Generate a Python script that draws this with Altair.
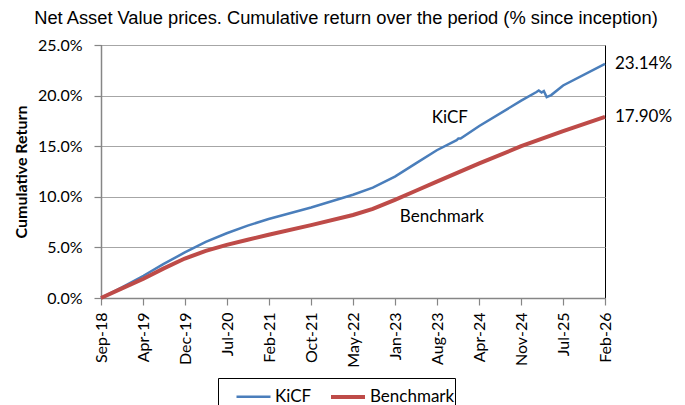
import altair as alt
import pandas as pd

# ---- data ----
tick_labels = ["Sep-18", "Apr-19", "Dec-19", "Jul-20", "Feb-21", "Oct-21", "May-22",
               "Jan-23", "Aug-23", "Apr-24", "Nov-24", "Jul-25", "Feb-26"]
span_months = 89  # Sep-18 .. Feb-26

kicf_months = [0, 3.7, 7.5, 11, 14.8, 18.5, 22.2, 25.9, 29.6, 37.1, 44.5, 48.0, 51.9,
               55.6, 59.3, 62.8, 63.1, 63.5, 66.8, 74.2, 76.9, 77.3, 77.8, 78.2, 78.7,
               79.5, 81.6, 89]
kicf_values = [0, 1.05, 2.2, 3.35, 4.5, 5.55, 6.4, 7.15, 7.8, 8.95, 10.2, 10.9, 12.0,
               13.3, 14.6, 15.6, 15.75, 15.75, 17.0, 19.5, 20.35, 20.5, 20.3, 20.45, 19.85,
               20.05, 21.0, 23.14]

bench_months = [0, 3.7, 7.5, 11, 14.8, 18.5, 22.2, 25.9, 29.6, 37.1, 44.5, 48.0, 51.9,
                55.6, 59.3, 66.8, 74.2, 81.6, 89]
bench_values = [0, 0.95, 1.9, 2.9, 3.9, 4.65, 5.25, 5.75, 6.25, 7.2, 8.2, 8.8, 9.7,
                10.6, 11.5, 13.3, 15.0, 16.5, 17.9]

series_names = ["KiCF", "Benchmark"]
series_colors = ["#4a7ebb", "#be4b48"]
series_widths = [2.5, 4]

end_values = [23.14, 17.90]
end_labels = ["23.14%", "17.90%"]

inline_labels = ["KiCF", "Benchmark"]
inline_months = [61.6, 60.2]
inline_values = [17.8, 8.0]

title_text = "Net Asset Value prices. Cumulative return over the period (% since inception)"

# ---- tables ----
lines = pd.DataFrame({
    "t": kicf_months + bench_months,
    "v": kicf_values + bench_values,
    "series": ["KiCF"] * len(kicf_months) + ["Benchmark"] * len(bench_months),
    "order": list(range(len(kicf_months))) + list(range(len(bench_months))),
})
ends = pd.DataFrame({"t": [span_months] * 2, "v": end_values, "label": end_labels})
inline = pd.DataFrame({"t": inline_months, "v": inline_values, "label": inline_labels})

tick_vals = [k * span_months / 12 for k in range(13)]
label_expr = "[" + ",".join(f"'{l}'" for l in tick_labels) + f"][round(datum.value*12/{span_months})]"

x_scale = alt.Scale(domain=[0, span_months], nice=False, zero=False)
y_scale = alt.Scale(domain=[0, 25], nice=False)

axis_common = dict(labelFont="Lato", labelFontSize=16, labelColor="black",
                   domainColor="#868686", domainWidth=1.5, tickColor="#868686",
                   tickSize=7, tickWidth=1.2)

x_enc = alt.X("t:Q", scale=x_scale,
              axis=alt.Axis(values=tick_vals, labelExpr=label_expr, labelAngle=270,
                            labelAlign="right", labelBaseline="middle", labelPadding=7,
                            grid=False, title=None, **axis_common))
y_enc = alt.Y("v:Q", scale=y_scale,
              axis=alt.Axis(values=[0, 5, 10, 15, 20, 25],
                            labelExpr="format(datum.value, '.1f') + '%'",
                            labelPadding=12, grid=True, gridColor="#a6a6a6", gridWidth=1,
                            title="Cumulative Return", titleFont="Lato", titleFontSize=16,
                            titleFontWeight="bold", titleColor="black", titlePadding=8,
                            **axis_common))

legend = alt.Legend(title=None, orient="none", legendX=117, legendY=333,
                    direction="horizontal", symbolType="stroke", symbolSize=1156,
                    labelFont="Lato", labelFontSize=17, labelColor="black",
                    strokeColor="black", padding=0, symbolOffset=17,
                    columnPadding=0, labelOffset=3)

line_layer = alt.Chart(lines).mark_line().encode(
    x=x_enc, y=y_enc,
    color=alt.Color("series:N", scale=alt.Scale(domain=series_names, range=series_colors),
                    legend=legend),
    strokeWidth=alt.StrokeWidth("series:N",
                                scale=alt.Scale(domain=series_names, range=series_widths),
                                legend=legend),
    order="order:Q",
)

end_layer = alt.Chart(ends).mark_text(align="left", baseline="middle", dx=10,
                                      font="Lato", fontSize=17, color="black").encode(
    x=alt.X("t:Q", scale=x_scale), y=alt.Y("v:Q", scale=y_scale), text="label:N")

inline_layer = alt.Chart(inline).mark_text(align="center", baseline="middle",
                                           font="Lato", fontSize=17, color="black").encode(
    x=alt.X("t:Q", scale=x_scale), y=alt.Y("v:Q", scale=y_scale), text="label:N")

chart = alt.layer(line_layer, end_layer, inline_layer).properties(
    width=504, height=253,
    title=alt.Title(title_text, font="Liberation Sans", fontSize=18.3, fontWeight="normal",
                    color="black", anchor="middle", offset=9, dx=-7),
    autosize=alt.AutoSizeParams(type="none"),
    padding={"left": 93, "top": 37, "right": 72, "bottom": 107},
).configure_view(stroke="black", strokeWidth=1)

chart.save("out.html", embed_options={"renderer": "svg", "actions": False})
